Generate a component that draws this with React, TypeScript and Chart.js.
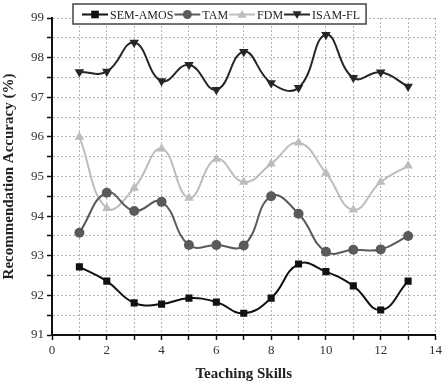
import React, { useEffect, useRef } from "react";
import { Chart, registerables } from "chart.js";

Chart.register(...registerables);

const xValues = [1, 2, 3, 4, 5, 6, 7, 8, 9, 10, 11, 12, 13];
const seriesNames = ["SEM-AMOS", "TAM", "FDM", "ISAM-FL"];
const semAmos = [92.72, 92.36, 91.81, 91.78, 91.93, 91.83, 91.55, 91.93, 92.79, 92.6, 92.24, 91.63, 92.36];
const tam = [93.58, 94.59, 94.13, 94.36, 93.27, 93.27, 93.26, 94.5, 94.06, 93.1, 93.15, 93.16, 93.5];
const fdm = [96.0, 94.2, 94.71, 95.7, 94.46, 95.44, 94.86, 95.32, 95.85, 95.09, 94.16, 94.86, 95.27];
const isamFl = [97.64, 97.65, 98.38, 97.41, 97.82, 97.19, 98.15, 97.36, 97.24, 98.58, 97.49, 97.63, 97.27];

const FONT = "'Liberation Serif', 'Times New Roman', serif";

const colors = ["#111111", "#5a5a5a", "#bdbdbd", "#262626"];
const styles: any[] = ["rect", "circle", "triangle", "triangle"];
const rotations = [0, 0, 0, 180];
const radii = [5, 5, 5.5, 5.5];

function drawPointShape(ctx: any, style: string, rot: number, x: number, y: number, r: number) {
  ctx.beginPath();
  if (style === "rect") {
    ctx.rect(x - r * 0.85, y - r * 0.85, r * 1.7, r * 1.7);
  } else if (style === "circle") {
    ctx.arc(x, y, r, 0, Math.PI * 2);
  } else {
    const s = rot === 180 ? -1 : 1;
    ctx.moveTo(x, y - s * r);
    ctx.lineTo(x + r, y + s * r * 0.7);
    ctx.lineTo(x - r, y + s * r * 0.7);
    ctx.closePath();
  }
  ctx.fill();
}

const legendPlugin = {
  id: "customLegend",
  afterDraw(chart: any) {
    const ctx = chart.ctx;
    ctx.save();
    ctx.setLineDash([]);
    ctx.font = `12px ${FONT}`;
    const lineW = 26;
    const boxL = 73;
    const boxT = 4;
    const boxH = 20;
    let x = boxL + 9;
    const cy = boxT + boxH / 2 + 0.5;
    const items: any[] = [];
    chart.data.datasets.forEach((ds: any) => {
      const tw = ctx.measureText(ds.label).width;
      items.push({ x, tw, ds });
      x += lineW + 2 + tw + 1;
    });
    const boxR = x + 5;
    ctx.fillStyle = "#ffffff";
    ctx.fillRect(boxL, boxT, boxR - boxL, boxH);
    ctx.strokeStyle = "#444";
    ctx.lineWidth = 1.5;
    ctx.strokeRect(boxL, boxT, boxR - boxL, boxH);
    items.forEach((it) => {
      const ds = it.ds;
      ctx.strokeStyle = ds.borderColor;
      ctx.lineWidth = 2;
      ctx.beginPath();
      ctx.moveTo(it.x, cy);
      ctx.lineTo(it.x + lineW, cy);
      ctx.stroke();
      ctx.fillStyle = ds.pointBackgroundColor;
      drawPointShape(ctx, ds.pointStyle, ds.pointRotation || 0, it.x + lineW / 2, cy, 4.5);
      ctx.fillStyle = "#222";
      ctx.textBaseline = "middle";
      ctx.textAlign = "left";
      ctx.fillText(ds.label, it.x + lineW + 2, cy + 1);
    });
    ctx.restore();
  },
};

export default function App() {
  const ref = useRef<HTMLCanvasElement>(null);
  useEffect(() => {
    if (!ref.current) return;
    const all = [semAmos, tam, fdm, isamFl];
    const chart = new Chart(ref.current, {
      type: "line",
      data: {
        datasets: all.map((vals, i) => ({
          label: seriesNames[i],
          data: xValues.map((x, j) => ({ x, y: vals[j] })),
          borderColor: colors[i],
          backgroundColor: colors[i],
          pointBackgroundColor: colors[i],
          pointBorderColor: colors[i],
          pointBorderWidth: 0,
          pointStyle: styles[i],
          pointRotation: rotations[i],
          pointRadius: radii[i],
          borderWidth: 2,
          tension: 0.45,
          fill: false,
        })),
      },
      options: {
        animation: false,
        responsive: false,
        maintainAspectRatio: false,
        layout: { padding: { top: 18, right: 4, left: 0, bottom: 0 } },
        plugins: { legend: { display: false }, tooltip: { enabled: false } },
        scales: {
          x: {
            type: "linear",
            min: 0,
            max: 14,
            afterFit: (s: any) => {
              s.height = 48;
            },
            border: { color: "#111", width: 2, dash: [2, 2] },
            grid: {
              color: "#b5b5b5",
              lineWidth: 1,
              tickLength: 5,
              tickColor: "#111",
              tickWidth: 1.5,
              tickBorderDash: [],
            },
            ticks: {
              stepSize: 1,
              autoSkip: false,
              maxRotation: 0,
              color: "#333",
              font: { family: FONT, size: 13 },
              padding: 3,
              callback: (v: any) => (Number(v) % 2 === 0 ? String(v) : ""),
            },
            title: {
              display: true,
              text: "Teaching Skills",
              color: "#222",
              font: { family: FONT, size: 15, weight: "bold" },
              padding: { top: 6, bottom: 0 },
            },
          },
          y: {
            min: 91,
            max: 99,
            afterFit: (s: any) => {
              s.width = 52;
            },
            border: { color: "#111", width: 2, dash: [2, 2] },
            grid: {
              color: "#b5b5b5",
              lineWidth: 1,
              tickLength: 5,
              tickColor: "#111",
              tickWidth: 1.5,
              tickBorderDash: [],
            },
            ticks: {
              stepSize: 0.5,
              autoSkip: false,
              color: "#333",
              font: { family: FONT, size: 13 },
              padding: 3,
              callback: (v: any) => (Number.isInteger(Number(v)) ? String(v) : ""),
            },
            title: {
              display: true,
              text: "Recommendation Accuracy (%)",
              color: "#222",
              font: { family: FONT, size: 15, weight: "bold" },
              padding: { top: 0, bottom: 4 },
            },
          },
        },
      },
      plugins: [legendPlugin],
    } as any);
    return () => chart.destroy();
  }, []);
  return (
    <div style={{ position: "fixed", left: 0, top: 0, width: 445, height: 383, background: "#fff" }}>
      <canvas ref={ref} width={445} height={383} style={{ width: 445, height: 383 }} />
    </div>
  );
}
